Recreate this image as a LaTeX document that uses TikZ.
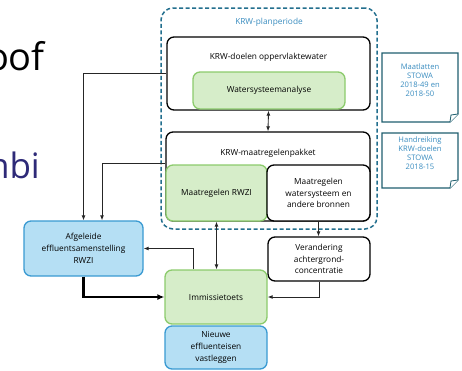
\documentclass[tikz,border=0pt]{standalone}
\usepackage{fontspec}
\setmainfont{Open Sans}
\usetikzlibrary{arrows.meta}
\definecolor{gfill}{HTML}{D6EDC9}
\definecolor{gline}{HTML}{8CCB6C}
\definecolor{bfill}{HTML}{B5DFF4}
\definecolor{bline}{HTML}{3A9AD2}
\definecolor{teal}{HTML}{236F8E}
\definecolor{lblue}{HTML}{3A8DC0}
\definecolor{indigo}{HTML}{2E2A78}
\definecolor{docline}{HTML}{1F5F6F}
\tikzset{
  box/.style={draw=black, line width=1.3pt, rounded corners=7pt, fill=white, align=center,
    inner sep=0pt, font=\fontsize{8.3}{11.7}\selectfont},
  gbox/.style={box, draw=gline, fill=gfill},
  bbox/.style={box, draw=bline, fill=bfill},
  conn/.style={draw=black!85, line width=0.9pt, -{Latex[length=5pt,width=4pt]}},
  dconn/.style={conn, {Latex[length=5pt,width=4pt]}-{Latex[length=5pt,width=4pt]}},
  doctext/.style={align=center, text=lblue, font=\fontsize{7.6}{9.2}\selectfont},
}
\begin{document}
\begin{tikzpicture}[x=1pt,y=-1pt]
\useasboundingbox[fill=white] (0,0) rectangle (462,370);
% slide fragments
\node[anchor=base east, font=\fontsize{38}{40}\selectfont, inner sep=0pt] (oof) at (45,70) {oof};
\node[anchor=base east, font=\fontsize{35}{40}\selectfont, text=indigo, inner sep=0pt] (nbi) at (40,178) {nbi};
% plan period
\node[draw=teal, line width=1.5pt, dash pattern=on 4pt off 2.5pt, rounded corners=12pt,
  minimum width=216pt, minimum height=221pt, inner sep=0pt] (plan) at (269,118.5) {};
\node[text=lblue, font=\fontsize{8.3}{10}\selectfont] (planlbl) at (269,22) {KRW-planperiode};
% doelen
\node[box, minimum width=203pt, minimum height=73pt] (doelen) at (268.5,73.5) {};
\node[font=\fontsize{8.3}{10}\selectfont] (doelenlbl) at (268.5,57) {KRW-doelen oppervlaktewater};
\node[gbox, minimum width=152pt, minimum height=37pt] (wsa) at (269,90.5) {Watersysteemanalyse};
% pakket
\node[box, minimum width=204pt, minimum height=89pt] (pakket) at (268,176.5) {};
\node[font=\fontsize{8.3}{10}\selectfont] (pakketlbl) at (268,153) {KRW-maatregelenpakket};
\node[gbox, minimum width=101pt, minimum height=56pt] (rwzi) at (216.5,193) {Maatregelen RWZI};
\node[box, minimum width=103pt, minimum height=56pt] (ws) at (318.5,193) {Maatregelen\\watersysteem en\\andere bronnen};
% lower
\node[box, minimum width=102pt, minimum height=44pt] (ver) at (319,259) {Verandering\\achtergrond-\\concentratie};
\node[gbox, minimum width=102pt, minimum height=54pt] (imm) at (216,297) {Immissietoets};
\node[bbox, minimum width=102pt, minimum height=43pt] (nieuw) at (216,347.5) {Nieuwe\\effluenteisen\\vastleggen};
\node[bbox, minimum width=119pt, minimum height=55pt] (afg) at (83.5,248.5) {Afgeleide\\effluentsamenstelling\\RWZI};
% documents
\draw[docline, line width=1.2pt, fill=white] (382,53) -- (458,53) -- (458,114) -- (450,122) -- (382,122) -- cycle;
\draw[docline, line width=0.8pt, fill=white] (458,114) -- (451,115) -- (450,122);
\node[doctext] (doc1) at (420,80) {Maatlatten\\STOWA\\2018-49 en\\2018-50};
\draw[docline, line width=1.2pt, fill=white] (382,133) -- (458,133) -- (458,180) -- (450,188) -- (382,188) -- cycle;
\draw[docline, line width=0.8pt, fill=white] (458,180) -- (451,181) -- (450,188);
\node[doctext] (doc2) at (420,153) {Handreiking\\KRW-doelen\\STOWA\\2018-15};
% connectors
\draw[conn] (doelen.west) -| (afg.north);
\draw[conn] ([yshift=13.5pt]pakket.west) -| ([xshift=18.5pt]afg.north);
\draw[dconn] (doelen.south) -- (pakket.north);
\draw[conn] (ws.south) -- (ws.south |- ver.north);
\draw[conn] (ver.south) |- (imm.east);
\draw[dconn] (rwzi.south) -- (rwzi.south |- imm.north);
\draw[conn] ([xshift=-23pt]imm.north) |- (afg.east);
\draw[line width=2.6pt, -{Latex[length=7pt,width=6pt]}] (afg.south) |- (imm.west);
\end{tikzpicture}
\end{document}
